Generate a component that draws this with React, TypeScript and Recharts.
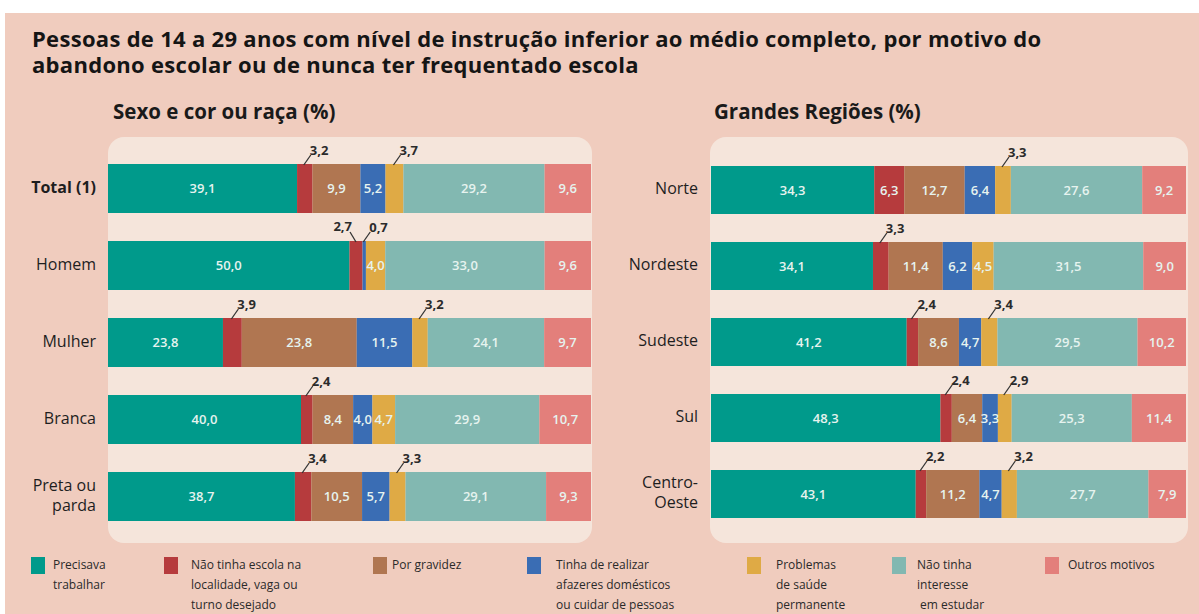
import { Bar, BarChart, XAxis, YAxis } from "recharts";

const serieKeys = ["trabalhar", "escola", "gravidez", "domesticos", "saude", "interesse", "outros"];
const serieColors = ["#009a8b", "#b63b3d", "#b07651", "#3a6db4", "#dfaa45", "#82b8b1", "#e37f7b"];
const legendLines = [
  ["Precisava", "trabalhar"],
  ["Não tinha escola na", "localidade, vaga ou", "turno desejado"],
  ["Por gravidez"],
  ["Tinha de realizar", "afazeres domésticos", "ou cuidar de pessoas"],
  ["Problemas", "de saúde", "permanente"],
  ["Não tinha", "interesse", "\u00a0em estudar"],
  ["Outros motivos"],
];
const titleLines = [
  "Pessoas de 14 a 29 anos com nível de instrução inferior ao médio completo, por motivo do",
  "abandono escolar ou de nunca ter frequentado escola",
];

// Sexo e cor ou raça
const grupos = ["Total (1)", "Homem", "Mulher", "Branca", "Preta ou parda"];
const trabalharG = [39.1, 50.0, 23.8, 40.0, 38.7];
const escolaG = [3.2, 2.7, 3.9, 2.4, 3.4];
const gravidezG = [9.9, 0, 23.8, 8.4, 10.5];
const domesticosG = [5.2, 0.7, 11.5, 4.0, 5.7];
const saudeG = [3.7, 4.0, 3.2, 4.7, 3.3];
const interesseG = [29.2, 33.0, 24.1, 29.9, 29.1];
const outrosG = [9.6, 9.6, 9.7, 10.7, 9.3];

// Grandes Regiões
const regioes = ["Norte", "Nordeste", "Sudeste", "Sul", "Centro-Oeste"];
const trabalharR = [34.3, 34.1, 41.2, 48.3, 43.1];
const escolaR = [6.3, 3.3, 2.4, 2.4, 2.2];
const gravidezR = [12.7, 11.4, 8.6, 6.4, 11.2];
const domesticosR = [6.4, 6.2, 4.7, 3.3, 4.7];
const saudeR = [3.3, 4.5, 3.4, 2.9, 3.2];
const interesseR = [27.6, 31.5, 29.5, 25.3, 27.7];
const outrosR = [9.2, 9.0, 10.2, 11.4, 7.9];

const tickLines: Record<string, string[]> = {
  "Preta ou parda": ["Preta ou", "parda"],
  "Centro-Oeste": ["Centro-", "Oeste"],
};

const buildRows = (cats: string[], cols: number[][]) =>
  cats.map((cat, i) => {
    const row: any = { cat };
    serieKeys.forEach((k, j) => (row[k] = cols[j][i]));
    return row;
  });

const rowsG = buildRows(grupos, [trabalharG, escolaG, gravidezG, domesticosG, saudeG, interesseG, outrosG]);
const rowsR = buildRows(regioes, [trabalharR, escolaR, gravidezR, domesticosR, saudeR, interesseR, outrosR]);

const FONT = "'Open Sans', 'Noto Sans', sans-serif";
const TOP = 24; // espaço para os rótulos por cima da primeira barra
const fmt = (v: number) => v.toFixed(1).replace(".", ",");

// o índice do rótulo pula barras de valor 0, então a linha sai da posição y
function makeLabel(rows: any[], key: string, plotHeight: number) {
  const band = plotHeight / rows.length;
  return (p: any) => {
    const x = Number(p.x);
    const y = Number(p.y);
    const w = Number(p.width);
    const h = Number(p.height);
    const idx = Math.floor((y + h / 2 - TOP) / band);
    const row = rows[idx];
    const v = row ? row[key] : 0;
    if (!v) return null;
    const thr = key === "escola" || key === "saude" ? 4 : 1;
    if (v >= thr) {
      return (
        <text x={x + w / 2} y={y + h / 2 + 4.5} textAnchor="middle" fill="#e6f3ef" fontSize={13} fontWeight={600} fontFamily={FONT}>
          {fmt(v)}
        </text>
      );
    }
    const cx = x + w / 2;
    // "2,7" em Homem fica à esquerda por causa do 0,7 ao lado
    const left = row.cat === "Homem" && key === "escola";
    if (left) {
      return (
        <g>
          <line x1={cx} y1={y + 1} x2={cx - 6} y2={y - 9} stroke="#333" strokeWidth={1.3} />
          <text x={cx - 4} y={y - 10} textAnchor="end" fill="#2b2b2b" fontSize={13} fontWeight={700} fontFamily={FONT}>
            {fmt(v)}
          </text>
        </g>
      );
    }
    return (
      <g>
        <line x1={cx - 1} y1={y + 1} x2={cx + 6} y2={y - 9} stroke="#333" strokeWidth={1.3} />
        <text x={cx + 5} y={y - 9} textAnchor="start" fill="#2b2b2b" fontSize={13} fontWeight={700} fontFamily={FONT}>
          {fmt(v)}
        </text>
      </g>
    );
  };
}

function CatTick(props: any) {
  const { x, y, payload } = props;
  const name = String(payload.value);
  const lines = tickLines[name] || [name];
  const bold = name.startsWith("Total");
  return (
    <text x={x} y={y} textAnchor="end" fill="#1e1e1e" fontSize={16} fontWeight={bold ? 700 : 400} fontFamily={FONT}>
      {lines.map((l, i) => (
        <tspan key={i} x={x} dy={i === 0 ? 4 - (lines.length - 1) * 10 : 20}>
          {l}
        </tspan>
      ))}
    </text>
  );
}

function Panel({ rows, width, plotHeight, axisWidth, margin, barSize }: any) {
  return (
    <BarChart
      width={width}
      height={plotHeight + TOP}
      data={rows}
      layout="vertical"
      stackOffset="expand"
      barCategoryGap={0}
      margin={{ top: TOP, right: 0, bottom: 0, left: 0 }}
    >
      <XAxis type="number" domain={[0, 1]} hide />
      <YAxis
        type="category"
        dataKey="cat"
        width={axisWidth}
        axisLine={false}
        tickLine={false}
        tickMargin={margin}
        tick={<CatTick />}
      />
      {serieKeys.map((k, j) => (
        <Bar
          key={k}
          dataKey={k}
          stackId="a"
          fill={serieColors[j]}
          barSize={barSize}
          isAnimationActive={false}
          label={makeLabel(rows, k, plotHeight)}
        />
      ))}
    </BarChart>
  );
}

export default function App() {
  return (
    <div style={{ position: "absolute", left: 0, top: 0, width: 1199, height: 614, background: "#fff", overflow: "hidden", fontFamily: FONT }}>
      <div style={{ position: "absolute", left: 5, top: 13, right: 0, bottom: 0, background: "#f0ccbe" }} />
      {titleLines.map((t, i) => (
        <div
          key={i}
          style={{ position: "absolute", left: 32, top: 25 + i * 26, height: 26, fontSize: 22, fontWeight: 700, lineHeight: "26px", letterSpacing: 0.3, color: "#151515", whiteSpace: "nowrap" }}
        >
          {t}
        </div>
      ))}
      <div style={{ position: "absolute", left: 113, top: 97, fontSize: 20.5, fontWeight: 700, color: "#1a1a1a" }}>
        Sexo e cor ou raça (%)
      </div>
      <div style={{ position: "absolute", left: 714, top: 97, fontSize: 20.5, fontWeight: 700, color: "#1a1a1a" }}>
        Grandes Regiões (%)
      </div>

      <div style={{ position: "absolute", left: 108, top: 137, width: 484, height: 406, background: "#f5e5db", borderRadius: 16 }} />
      <div style={{ position: "absolute", left: 710, top: 137, width: 478, height: 406, background: "#f5e5db", borderRadius: 16 }} />

      <div style={{ position: "absolute", left: 0, top: 150 - TOP }}>
        <Panel rows={rowsG} width={591} plotHeight={385} axisWidth={108} margin={6} barSize={49} />
      </div>
      <div style={{ position: "absolute", left: 600, top: 152 - TOP }}>
        <Panel rows={rowsR} width={586} plotHeight={380} axisWidth={111} margin={7} barSize={48} />
      </div>

      {legendLines.map((lines, i) => {
        const sq = [31, 164, 373, 527, 747, 892, 1045][i];
        const tx = [53, 191, 392, 556, 776, 917, 1068][i];
        return (
          <div key={i}>
            <div style={{ position: "absolute", left: sq, top: 557, width: 14, height: 17, background: serieColors[i] }} />
            <div style={{ position: "absolute", left: tx, top: 555, fontSize: 12, lineHeight: "20px", color: "#2a2a2a", whiteSpace: "pre" }}>
              {lines.map((l, k) => (
                <div key={k}>{l}</div>
              ))}
            </div>
          </div>
        );
      })}
    </div>
  );
}
